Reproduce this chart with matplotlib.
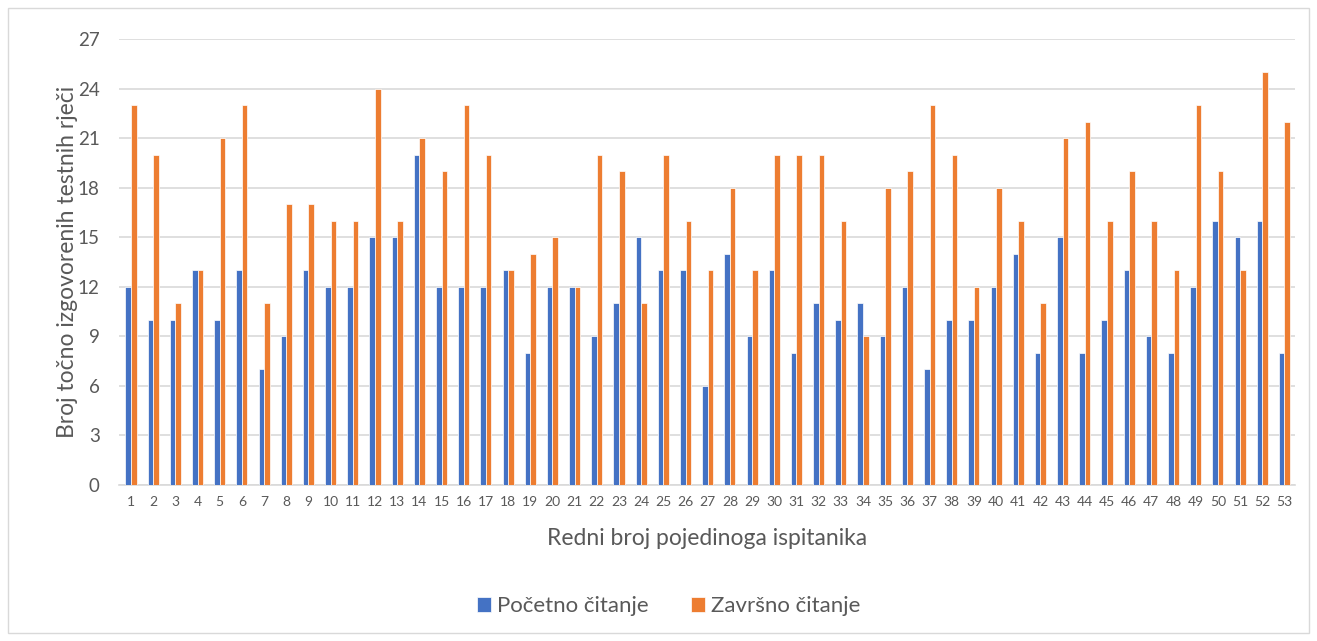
#!/usr/bin/env python3
import numpy as np
import matplotlib
matplotlib.use('Agg')
import matplotlib.pyplot as plt
import matplotlib.patches as patches

# ispitanici 1..53
ispitanici = [str(i) for i in range(1, 54)]

pocetno = [12, 10, 10, 13, 10, 13, 7, 9, 13, 12,
           12, 15, 15, 20, 12, 12, 12, 13, 8, 12,
           12, 9, 11, 15, 13, 13, 6, 14, 9, 13,
           8, 11, 10, 11, 9, 12, 7, 10, 10, 12,
           14, 8, 15, 8, 10, 13, 9, 8, 12, 16,
           15, 16, 8]

zavrsno = [23, 20, 11, 13, 21, 23, 11, 17, 17, 16,
           16, 24, 16, 21, 19, 23, 20, 13, 14, 15,
           12, 20, 19, 11, 20, 16, 13, 18, 13, 20,
           20, 20, 16, 9, 18, 19, 23, 20, 12, 18,
           16, 11, 21, 22, 16, 19, 16, 13, 23, 19,
           13, 25, 22]

y_ticks = [0, 3, 6, 9, 12, 15, 18, 21, 24, 27]

plt.rcParams['font.family'] = ['Lato', 'DejaVu Sans']

blue = '#4472C4'
orange = '#ED7D31'
grid_c = '#D9D9D9'
text_c = '#595959'

fig = plt.figure(figsize=(13.17, 6.41), dpi=100)
ax = fig.add_axes([0.0904, 0.2434, 0.8926, 0.6957])

x = np.arange(len(ispitanici))
w = 0.25
ax.bar(x - w / 2 + 0.04, pocetno, width=w, color=blue,
       edgecolor='white', linewidth=0.5, zorder=3, label='Početno čitanje')
ax.bar(x + w / 2 + 0.04, zavrsno, width=w, color=orange,
       edgecolor='white', linewidth=0.5, zorder=3, label='Završno čitanje')

ax.set_xlim(-0.5, len(ispitanici) - 0.5)
ax.set_ylim(0, 27)
ax.set_yticks(y_ticks)
ax.set_yticklabels([str(t) for t in y_ticks], fontsize=13.5, color=text_c)
ax.set_xticks(x + 0.04)
ax.set_xticklabels(ispitanici, fontsize=10, color=text_c)
ax.tick_params(axis='both', length=0)
ax.tick_params(axis='y', pad=14)
ax.tick_params(axis='x', pad=8)

ax.grid(axis='y', color=grid_c, linewidth=1.2, zorder=0)
for s in ['top', 'right', 'left']:
    ax.spines[s].set_visible(False)
ax.spines['bottom'].set_color(grid_c)
ax.spines['bottom'].set_linewidth(1.2)

ax.set_xlabel('Redni broj pojedinoga ispitanika', fontsize=16.5,
              color=text_c, labelpad=14)
ax.set_ylabel('Broj točno izgovorenih testnih rječi', fontsize=16.5,
              color=text_c, labelpad=0)

leg = fig.legend(loc='center', bbox_to_anchor=(0.508, 0.054), ncol=2,
                 frameon=False, fontsize=16, handlelength=0.6,
                 handleheight=0.6, columnspacing=1.9, handletextpad=0.3)
for t in leg.get_texts():
    t.set_color(text_c)

# okvir oko grafa
fig.patches.append(patches.Rectangle((8 / 1317, 8 / 641), 1 - 16 / 1317,
                                     1 - 16 / 641, transform=fig.transFigure,
                                     fill=False, ec=grid_c, lw=1))

fig.savefig('out.png', dpi=100)
plt.close()
